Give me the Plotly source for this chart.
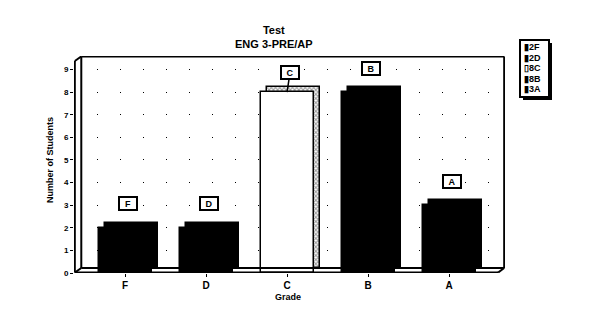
import plotly.graph_objects as go

# ---- data ----
grades = ["F", "D", "C", "B", "A"]
counts = [2, 2, 8, 8, 3]
y_ticks = [0, 1, 2, 3, 4, 5, 6, 7, 8, 9]
title_lines = ["Test", "ENG 3-PRE/AP"]
x_title = "Grade"
y_title = "Number of Students"

# ---- styling ----
front_colors = ["black", "black", "white", "black", "black"]
side_patterns = ["", "", "x", "", ""]
side_colors = ["black", "black", "white", "black", "black"]
FONT = "Arial, Liberation Sans, sans-serif"

W, H = 600, 312
ML, MR, MT, MB = 74, 95, 56, 39
XR = [-0.63, 4.69]
YR = [0, 9.6]
depth_x, depth_y = 0.075, 0.22

fig = go.Figure()

# back / side face (gives the 3D look)
fig.add_trace(go.Bar(
    x=grades, y=counts, base=depth_y,
    width=0.65, offset=-0.32 + depth_x,
    marker=dict(color=side_colors,
                line=dict(color="black", width=1.5),
                pattern=dict(shape=side_patterns, fgcolor="black", bgcolor="white",
                             size=3, solidity=0.6, fillmode="overlay")),
    showlegend=False, hoverinfo="skip"))

# front face
fig.add_trace(go.Bar(
    x=grades, y=counts,
    width=0.65, offset=-0.32,
    marker=dict(color=front_colors, line=dict(color="black", width=1.5)),
    showlegend=False))

# ---- frame (3D box) ----
frame = [
    (XR[0] + depth_x + 0.015, depth_y, XR[0] + depth_x + 0.015, YR[1] - 0.02),
    (XR[0] + depth_x + 0.015, YR[1] - 0.02, XR[1] - 0.01, YR[1] - 0.02),
    (XR[1] - 0.01, YR[1] - 0.02, XR[1] - 0.01, depth_y),
    (XR[0] + depth_x + 0.015, depth_y, XR[1] - 0.01, depth_y),
    (XR[0] + 0.01, 0.02, XR[1] - depth_x - 0.01, 0.02),
    (XR[0] + 0.01, 0.02, XR[0] + 0.01, YR[1] - depth_y),
    (XR[0] + 0.01, YR[1] - depth_y, XR[0] + depth_x + 0.015, YR[1] - 0.02),
    (XR[0] + 0.01, 0.02, XR[0] + depth_x + 0.015, depth_y),
    (XR[1] - depth_x - 0.01, 0.02, XR[1] - 0.01, depth_y),
]
for x0, y0, x1, y1 in frame:
    fig.add_shape(type="line", xref="x", yref="y", x0=x0, y0=y0, x1=x1, y1=y1,
                  line=dict(color="black", width=2), layer="above")

# ---- boxed data labels ----
for g, v, c in zip(grades, counts, front_colors):
    fig.add_annotation(
        x=g, y=v, xref="x", yref="y", text=f"<b>{g}</b>",
        showarrow=(c == "white"), arrowhead=0, arrowwidth=1.5, arrowcolor="black",
        ax=3, ay=-20 if c == "white" else 0,
        xshift=3 if c != "white" else 0, yshift=0 if c == "white" else 24,
        font=dict(family=FONT, size=9, color="black"),
        bordercolor="black", borderwidth=2, borderpad=0, bgcolor="white",
        width=16, height=11)

# ---- titles ----
pw, ph = W - ML - MR, H - MT - MB
def px(x):
    return (x - ML) / pw
def py(y):
    return 1 - (y - MT) / ph

fig.add_annotation(xref="paper", yref="paper", x=px(274), y=py(37),
                   text="<br>".join(f"<b>{t}</b>" for t in title_lines),
                   showarrow=False, font=dict(family=FONT, size=11, color="black"),
                   yanchor="middle", xanchor="center")
fig.add_annotation(xref="paper", yref="paper", x=px(288), y=py(297),
                   text=f"<b>{x_title}</b>", showarrow=False,
                   font=dict(family=FONT, size=9, color="black"),
                   yanchor="middle", xanchor="center")
fig.add_annotation(xref="paper", yref="paper", x=px(50), y=py(160),
                   text=f"<b>{y_title}</b>", textangle=-90, showarrow=False,
                   font=dict(family=FONT, size=9, color="black"),
                   yanchor="middle", xanchor="center")

# ---- legend (custom) ----
leg_lines = [f"{'▯' if c == 'white' else '▮'}{v}{g}" for g, v, c in zip(grades, counts, front_colors)]
lx0, lx1, ly0, ly1 = 520, 549, 40, 97
fig.add_shape(type="rect", xref="paper", yref="paper",
              x0=px(lx0 + 3), x1=px(lx1 + 3), y0=py(ly1 + 3), y1=py(ly0 + 3),
              fillcolor="black", line=dict(width=0), layer="above")
fig.add_shape(type="rect", xref="paper", yref="paper",
              x0=px(lx0), x1=px(lx1), y0=py(ly1), y1=py(ly0),
              fillcolor="white", line=dict(color="black", width=2), layer="above")
for i, t in enumerate(leg_lines):
    fig.add_annotation(xref="paper", yref="paper", x=px(lx0 + 3), y=py(47 + 10.6 * i),
                       text=f"<b>{t}</b>", showarrow=False, align="left",
                       font=dict(family=FONT, size=9, color="black"),
                       xanchor="left", yanchor="middle", height=10, borderpad=0)

fig.update_layout(
    width=W, height=H,
    margin=dict(l=ML, r=MR, t=MT, b=MB),
    paper_bgcolor="white", plot_bgcolor="white",
    barmode="overlay", bargap=0,
    showlegend=False,
    xaxis=dict(range=XR, type="category", showgrid=False, zeroline=False, showline=False,
               tickvals=grades, ticktext=[f"<b>{g}</b>" for g in grades],
               ticks="outside", ticklen=3, tickcolor="black", tickwidth=1,
               tickfont=dict(family=FONT, size=10, color="black")),
    yaxis=dict(range=YR, tickvals=y_ticks, ticktext=[f"<b>{t}</b>" for t in y_ticks],
               showgrid=True, gridcolor="black", gridwidth=1,
               griddash="1px,22px", zeroline=False, showline=False,
               ticks="outside", ticklen=3, tickcolor="black", tickwidth=1,
               tickfont=dict(family=FONT, size=8, color="black")),
)

fig.write_html("out.html")
